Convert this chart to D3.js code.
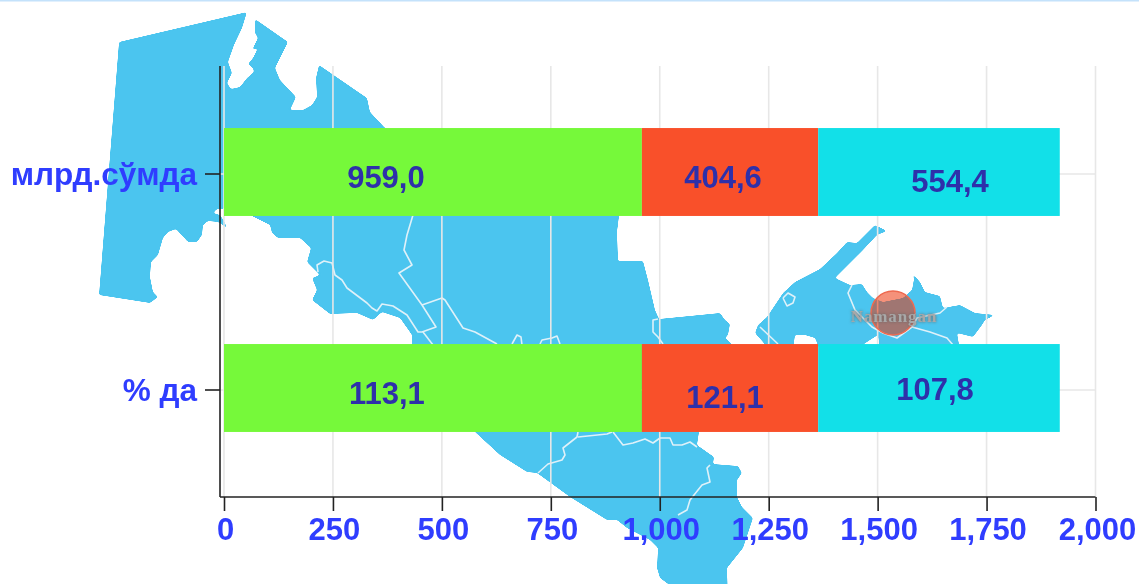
<!DOCTYPE html>
<html><head><meta charset="utf-8">
<script src="https://cdn.jsdelivr.net/npm/d3@7"></script>
<style>
html,body{margin:0;padding:0;background:#fff;overflow:hidden}
svg{display:block;filter:blur(.45px)}
text{font-family:"Liberation Sans",Arial,sans-serif;font-weight:bold}
</style></head><body>
<svg id="c" width="1139" height="584">
  <defs>
    <filter id="soft" x="-5%" y="-5%" width="110%" height="110%">
      <feGaussianBlur stdDeviation="1.1"/>
      <feColorMatrix type="matrix" values="1 0 0 0 0  0 1 0 0 0  0 0 1 0 0  0 0 0 7 -3"/>
    </filter>
  </defs>
</svg>
<script>
// ---- chart data ----
const categories = ["млрд.сўмда", "% да"];
const seriesNames = ["a", "b", "c"];
const seriesColors = ["#76f93a", "#f9502a", "#12e0e8"];
const barLengths = [959.0, 404.6, 554.4];
const rowLabels = [["959,0", "404,6", "554,4"], ["113,1", "121,1", "107,8"]];
const labelShiftX = [[-47, -7, 11], [-46, -5, -4]];
const labelShiftY = [[14, 14, 18], [14, 18, 10]];
const xTicks = [0, 250, 500, 750, 1000, 1250, 1500, 1750, 2000];
const mapMarkerName = "Namangan";

// ---- decorative background map (image-space outline, not data) ----
const mapMain = [[119,42],[247,12],[242,28],[234,45],[228,62],[232,73],[227,83],[231,89],[240,87],[247,78],[254,72],[253,68],[248,64],[253,58],[258,48],[252,50],[258,38],[255,33],[255,19],[288,42],[275,68],[280,80],[296,97],[290,110],[303,110],[312,105],[317,97],[316,78],[319,65],[367,98],[370,112],[385,128],[450,150],[619,150],[619,216],[617,232],[618,261],[643,261],[648,280],[655,310],[659,319],[710,314],[720,313],[725,320],[730,324],[728,335],[725,338],[732,344],[720,400],[699,432],[697,445],[714,457],[713,464],[738,466],[742,473],[737,480],[737,497],[742,507],[753,518],[743,548],[727,568],[728,600],[690,600],[660,578],[657,568],[658,548],[650,540],[627,528],[617,520],[607,520],[570,497],[537,473],[527,472],[500,455],[475,432],[440,380],[412,345],[412,335],[400,318],[382,312],[373,320],[357,313],[330,314],[312,300],[317,290],[312,278],[320,275],[307,262],[311,248],[300,238],[278,238],[272,233],[270,225],[250,215],[240,205],[224,205],[224,209],[217,209],[213,213],[220,215],[224,221],[231,236],[226,228],[223,225],[218,222],[208,221],[203,225],[202,235],[197,242],[188,242],[176,229],[168,232],[163,238],[158,255],[151,262],[150,277],[153,292],[158,297],[150,303],[99,295]];
const mapEast = [[755,333],[758,325],[767,317],[783,293],[795,282],[820,269],[837,253],[847,242],[857,243],[875,225],[887,231],[877,235],[863,250],[835,278],[850,285],[862,284],[867,292],[873,298],[883,302],[903,298],[912,290],[914,279],[912,273],[920,282],[925,292],[940,296],[943,308],[960,305],[975,313],[995,315],[985,320],[982,325],[973,337],[957,333],[960,350],[880,350],[878,335],[870,340],[855,350],[820,350],[815,338],[805,335],[795,335],[793,350],[770,350]];
const mapBorders = [
 [[413,215],[407,235],[404,250],[412,265],[399,273],[422,305],[436,327],[422,332],[418,332],[407,315],[393,306],[382,304],[377,311],[372,308],[367,303],[347,288],[342,280],[335,275],[332,263],[324,261],[317,265],[318,272]],
 [[422,305],[442,298],[445,300],[463,328],[475,332],[497,344]],
 [[423,332],[433,345]],
 [[512,344],[517,335],[521,337],[522,345]],
 [[540,344],[542,340],[552,338],[557,336],[560,344]],
 [[658,319],[653,320],[653,332],[658,337],[663,344]],
 [[760,327],[778,344]],
 [[783,298],[788,293],[795,297],[793,303],[787,306],[783,298]],
 [[852,285],[848,293],[855,310],[872,327],[883,333],[897,338],[912,327],[930,332],[947,338],[953,345]],
 [[912,327],[917,318],[940,313],[947,307]],
 [[538,473],[548,464],[562,460],[565,455],[563,448],[577,437],[578,432]],
 [[578,437],[607,434],[612,432]],
 [[613,432],[623,445],[633,443],[645,439],[653,443],[660,438],[670,438],[673,445],[682,445],[690,442],[697,447]],
 [[710,465],[707,468],[710,482],[702,485],[690,500],[687,510],[678,515]]
];
const markerPos = [893, 313];

// ---- drawing ----
const svg = d3.select("#c");
const blue = "#2f3dff";
const x = d3.scaleLinear().domain([0, 2000]).range([224, 1095.5]);
const y = d3.scaleBand().domain(categories).range([66, 498]).paddingInner(.593).paddingOuter(.2965);
const barLift = 2;

svg.append("rect").attr("width", 1139).attr("height", 1.5).attr("fill", "#c4e2fb");

// map
const line = d3.line().curve(d3.curveLinear);
const map = svg.append("g");
const land = map.append("g").attr("filter", "url(#soft)");
[mapMain, mapEast].forEach(p => land.append("path").attr("d", line(p) + "Z").attr("fill", "#4bc5ef"));
map.selectAll("path.b").data(mapBorders).join("path").attr("class", "b")
  .attr("d", line).attr("fill", "none").attr("stroke", "#dff1f9").attr("stroke-width", 1.6).attr("stroke-linejoin", "round");

// grid
const grid = svg.append("g").attr("stroke", "#e7e7e7").attr("stroke-width", 1.6);
grid.selectAll("line.v").data(xTicks).join("line").attr("class", "v")
  .attr("x1", d => x(d)).attr("x2", d => x(d)).attr("y1", 66).attr("y2", 497);
grid.selectAll("line.h").data(categories).join("line").attr("class", "h")
  .attr("x1", 220).attr("x2", x(2000))
  .attr("y1", d => y(d) + y.bandwidth() / 2).attr("y2", d => y(d) + y.bandwidth() / 2);

// marker on map
svg.append("circle").attr("cx", markerPos[0]).attr("cy", markerPos[1]).attr("r", 22)
  .attr("fill", "rgba(236,47,4,.53)").attr("stroke", "#ee6a50").attr("stroke-width", 1.5);
svg.append("text").attr("x", markerPos[0] + 1).attr("y", markerPos[1] + 9)
  .attr("text-anchor", "middle")
  .style("font-family", "'Liberation Serif',serif").style("font-size", "17px").style("letter-spacing", ".9px")
  .style("fill", "#a8a8a8").style("filter", "drop-shadow(0 0 1.5px #666)")
  .text(mapMarkerName);

// stacked bars
const rows = categories.map(c => Object.fromEntries([["cat", c], ...seriesNames.map((s, i) => [s, barLengths[i]])]));
const stacked = d3.stack().keys(seriesNames)(rows);
const gs = svg.selectAll("g.s").data(stacked).join("g").attr("class", "s").attr("fill", (d, i) => seriesColors[i]);
gs.selectAll("rect").data(d => d).join("rect")
  .attr("x", d => x(d[0])).attr("width", d => x(d[1]) - x(d[0]))
  .attr("y", d => y(d.data.cat) - barLift).attr("height", y.bandwidth());

// value labels
stacked.forEach((s, si) => s.forEach((d, ri) => {
  svg.append("text")
    .attr("x", (x(d[0]) + x(d[1])) / 2 + labelShiftX[ri][si])
    .attr("y", y(d.data.cat) + y.bandwidth() / 2 + labelShiftY[ri][si])
    .attr("text-anchor", "middle").style("font-size", "31px").style("fill", "#2e30aa")
    .text(rowLabels[ri][si]);
}));

// axes
const fmt = d3.format(",");
const gx = svg.append("g").attr("transform", "translate(0,497)")
  .call(d3.axisBottom(x).tickValues(xTicks).tickFormat(fmt).tickSize(14).tickSizeOuter(0));
gx.select(".domain").remove();
gx.selectAll("line").attr("stroke", "#222").attr("stroke-width", 1.6);
gx.selectAll("text").attr("dy", null).attr("y", 43).style("font-size", "31px").style("font-family", null).style("fill", blue).attr("fill", null);
gx.selectAll(".tick text").attr("dx", d => d === 2000 ? 1.5 : 1);
svg.append("line").attr("x1", 220).attr("x2", x(2000)).attr("y1", 497).attr("y2", 497).attr("stroke", "#222").attr("stroke-width", 1.6);

const gy = svg.append("g").attr("transform", "translate(220,0)")
  .call(d3.axisLeft(y).tickSize(15).tickSizeOuter(0));
gy.select(".domain").remove();
gy.selectAll("line").attr("stroke", "#222").attr("stroke-width", 1.6);
gy.selectAll("text").attr("x", -23).attr("dy", "11").style("font-size", "31.5px").style("fill", blue);
svg.append("line").attr("x1", 220).attr("x2", 220).attr("y1", 66).attr("y2", 497).attr("stroke", "#222").attr("stroke-width", 1.6);
</script>
</body></html>
